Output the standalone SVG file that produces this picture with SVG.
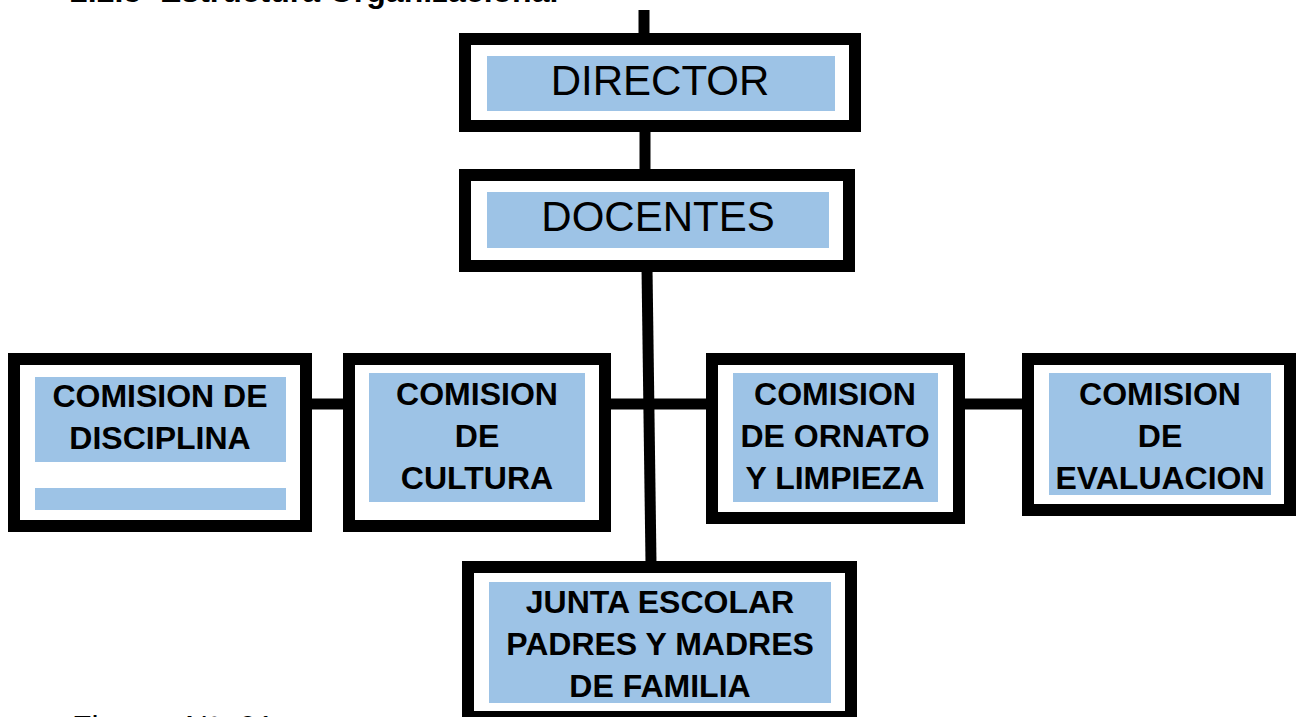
<svg xmlns="http://www.w3.org/2000/svg" width="1296" height="717" viewBox="0 0 1296 717">
<style>
.box{fill:#fff;stroke:#000;stroke-width:12}
.fill{fill:#9DC3E6}
.big{font-family:"Liberation Sans",Arial,sans-serif;font-size:42px;fill:#000;text-anchor:middle}
.lbl{font-family:"Liberation Sans",Arial,sans-serif;font-size:32px;font-weight:bold;fill:#000;text-anchor:middle}
.con{stroke:#000;stroke-width:11;fill:none}
.cap{font-family:"Liberation Sans",Arial,sans-serif;font-size:32px;fill:#000}
</style>
<rect width="1296" height="717" fill="#fff"/>
<text class="cap" y="2" font-weight="bold"><tspan x="70">2.2.5</tspan><tspan x="160">Estructura Organizacional</tspan></text>
<text class="cap" y="738"><tspan x="72">Figura</tspan><tspan x="185">N°. 01</tspan></text>
<g id="connectors">
<line class="con" x1="644" y1="10" x2="644" y2="36"/>
<line class="con" x1="645" y1="128" x2="645" y2="172"/>
<line class="con" x1="647" y1="268" x2="651" y2="563"/>
<line class="con" x1="608" y1="404" x2="709" y2="404" stroke-width="12"/>
<line class="con" x1="309" y1="404" x2="346" y2="404" stroke-width="12"/>
<line class="con" x1="962" y1="404" x2="1025" y2="404" stroke-width="12"/>
</g>
<g id="director">
<rect class="box" x="465" y="39" width="390" height="87"/>
<rect class="fill" x="487" y="56" width="348" height="55"/>
<text class="big" x="660" y="95">DIRECTOR</text>
</g>
<g id="docentes">
<rect class="box" x="465" y="175" width="384" height="91"/>
<rect class="fill" x="487" y="192" width="342" height="56"/>
<text class="big" x="658" y="231">DOCENTES</text>
</g>
<g id="disciplina">
<rect class="box" x="14" y="359" width="292" height="167"/>
<rect class="fill" x="35" y="377" width="251" height="85"/>
<rect class="fill" x="35" y="488" width="251" height="22"/>
<text class="lbl" x="160" y="407">COMISION DE</text>
<text class="lbl" x="160" y="449">DISCIPLINA</text>
</g>
<g id="cultura">
<rect class="box" x="349" y="359" width="256" height="167"/>
<rect class="fill" x="369" y="373" width="216" height="129"/>
<text class="lbl" x="477" y="405">COMISION</text>
<text class="lbl" x="477" y="447">DE</text>
<text class="lbl" x="477" y="489">CULTURA</text>
</g>
<g id="ornato">
<rect class="box" x="712" y="359" width="247" height="159"/>
<rect class="fill" x="733" y="373" width="205" height="129"/>
<text class="lbl" x="835" y="405">COMISION</text>
<text class="lbl" x="835" y="447">DE ORNATO</text>
<text class="lbl" x="835" y="489">Y LIMPIEZA</text>
</g>
<g id="evaluacion">
<rect class="box" x="1028" y="359" width="262" height="151"/>
<rect class="fill" x="1049" y="373" width="222" height="122"/>
<text class="lbl" x="1160" y="405">COMISION</text>
<text class="lbl" x="1160" y="447">DE</text>
<text class="lbl" x="1160" y="489">EVALUACION</text>
</g>
<g id="junta">
<rect class="box" x="468" y="567" width="383" height="150"/>
<rect class="fill" x="489" y="582" width="342" height="121"/>
<text class="lbl" x="660" y="613">JUNTA ESCOLAR</text>
<text class="lbl" x="660" y="655">PADRES Y MADRES</text>
<text class="lbl" x="660" y="697">DE FAMILIA</text>
</g>
</svg>
